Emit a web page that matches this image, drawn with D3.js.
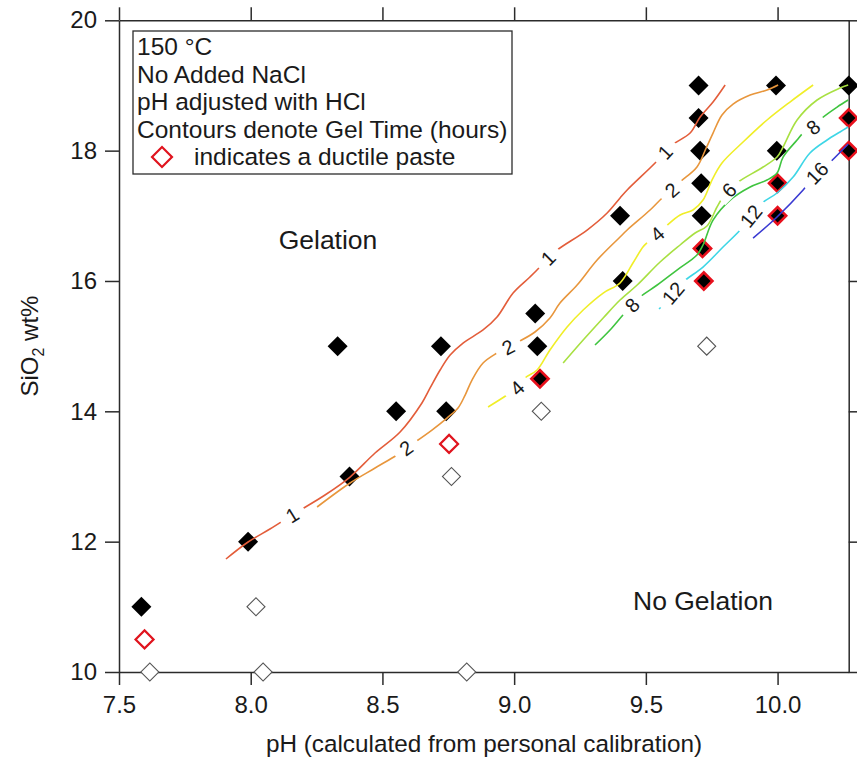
<!DOCTYPE html>
<html><head><meta charset="utf-8">
<script src="https://cdn.jsdelivr.net/npm/d3@7"></script>
<style>body{margin:0;background:#fff}svg{display:block}</style>
</head><body><svg id="c" width="857" height="764"></svg>
<script>
// ---------- data ----------
const xTicks = [7.5, 8.0, 8.5, 9.0, 9.5, 10.0];
const yTicks = [10, 12, 14, 16, 18, 20];

// gelation (filled black diamonds)
const gelPH = [7.585, 7.99, 8.33, 8.375, 8.552, 8.722, 8.742, 9.08, 9.088, 9.402, 9.412, 9.70, 9.70, 9.706, 9.71, 9.712, 9.994, 9.997, 10.27];
const gelSi = [11, 12, 15, 13, 14, 15, 14, 15.5, 15, 17, 16, 19, 18.5, 18, 17.5, 17, 19, 18, 19];
// gelation + ductile paste (black with red border)
const ductGelPH = [9.098, 9.715, 9.72, 10.0, 10.0, 10.27, 10.27];
const ductGelSi = [14.5, 16.5, 16, 17.5, 17, 18.5, 18];
// ductile paste, no gelation (open red)
const ductPH = [7.597, 8.753];
const ductSi = [10.5, 13.5];
// no gelation (open grey)
const noGelPH = [7.617, 8.02, 8.047, 8.762, 8.82, 9.103, 9.731];
const noGelSi = [10, 11, 10, 13, 10, 14, 15];

// contours of gel time (hours): [pH, SiO2]
const contour1 = [[7.906,11.734],[7.990,11.995],[8.073,12.194],[8.157,12.409],[8.195,12.501],[8.282,12.716],[8.377,12.992],[8.472,13.360],[8.567,13.683],[8.650,14.128],[8.681,14.358],[8.719,14.634],[8.757,14.864],[8.806,15.048],[8.882,15.248],[8.935,15.447],[8.996,15.815],[9.060,16.061],[9.098,16.214],[9.129,16.352],[9.163,16.475],[9.277,16.782],[9.353,17.043],[9.402,17.273],[9.429,17.396],[9.535,17.810],[9.573,17.979],[9.599,18.086],[9.668,18.270],[9.706,18.516],[9.755,18.746],[9.801,19.007]];
const contour2 = [[8.252,12.532],[8.377,12.900],[8.472,13.130],[8.555,13.330],[8.590,13.437],[8.624,13.529],[8.688,13.713],[8.745,13.897],[8.787,14.051],[8.814,14.250],[8.840,14.480],[8.882,14.741],[8.935,14.895],[8.977,14.987],[9.015,15.064],[9.079,15.217],[9.136,15.432],[9.174,15.662],[9.239,15.938],[9.315,16.322],[9.402,16.675],[9.429,16.782],[9.516,17.089],[9.562,17.273],[9.599,17.396],[9.630,17.519],[9.694,17.749],[9.729,18.040],[9.755,18.270],[9.789,18.547],[9.831,18.715],[9.896,18.853],[9.960,18.930],[10.002,19.007]];
const contour4 = [[8.901,14.066],[8.973,14.250],[9.011,14.358],[9.041,14.511],[9.087,14.634],[9.136,14.941],[9.201,15.294],[9.262,15.555],[9.338,15.815],[9.402,15.969],[9.451,16.276],[9.489,16.521],[9.508,16.598],[9.543,16.721],[9.573,16.828],[9.630,17.012],[9.679,17.089],[9.717,17.242],[9.751,17.549],[9.789,17.810],[9.869,18.132],[9.960,18.470],[10.047,18.746],[10.135,19.007]];
const contour6 = [[9.186,14.741],[9.262,15.094],[9.338,15.432],[9.402,15.708],[9.467,15.938],[9.554,16.291],[9.630,16.552],[9.687,16.736],[9.732,16.843],[9.770,17.135],[9.793,17.288],[9.816,17.396],[9.850,17.519],[9.945,17.749],[9.998,17.902],[10.021,18.056],[10.074,18.470],[10.150,18.777],[10.237,18.961],[10.268,19.007]];
const contour8 = [[9.307,15.017],[9.364,15.248],[9.413,15.478],[9.448,15.631],[9.478,15.754],[9.543,15.938],[9.618,16.168],[9.694,16.398],[9.717,16.552],[9.755,16.935],[9.820,17.242],[9.896,17.442],[9.960,17.549],[9.998,17.657],[10.021,17.902],[10.074,18.163],[10.097,18.270],[10.135,18.362],[10.169,18.501],[10.226,18.669],[10.268,18.777]];
const contour12 = [[9.550,15.570],[9.573,15.662],[9.603,15.815],[9.641,15.984],[9.717,16.214],[9.793,16.521],[9.858,16.782],[9.899,16.997],[9.941,17.196],[9.998,17.350],[10.059,17.595],[10.123,17.964],[10.188,18.163],[10.237,18.286],[10.268,18.362]];
const contour16 = [[9.907,16.659],[9.998,16.982],[10.097,17.396],[10.150,17.657],[10.188,17.779],[10.268,18.102]];

const contourLevels = [1, 2, 4, 6, 8, 12, 16];
const contourLines = [contour1, contour2, contour4, contour6, contour8, contour12, contour16];
// label anchor points on the contours: [level, pH, SiO2]
const contourLabels = [[1,8.157,12.409],[1,9.129,16.352],[1,9.573,17.979],
  [2,8.590,13.437],[2,8.977,14.987],[2,9.599,17.396],
  [4,9.011,14.358],[4,9.543,16.721],
  [6,9.816,17.396],
  [8,9.448,15.631],[8,10.135,18.362],
  [12,9.603,15.815],[12,9.899,16.997],
  [16,10.150,17.657]];

const legendLines = ["150 °C", "No Added NaCl", "pH adjusted with HCl", "Contours denote Gel Time (hours)"];
const legendMarkerText = "indicates a ductile paste";
const xTitle = "pH (calculated from personal calibration)";

// ---------- styles ----------
const FONT = '"Liberation Sans", Arial, Helvetica, sans-serif';
const levelColor = {1:"#e35d3a", 2:"#e8963c", 4:"#f0ee28", 6:"#a8e042", 8:"#3fc43f", 12:"#3ed6e6", 16:"#3a3ad2"};
const AX = "#2b2b2b";

// ---------- scales ----------
const x = d3.scaleLinear().domain([7.5, 10.27]).range([119, 848.7]);
const y = d3.scaleLinear().domain([10, 20]).range([672, 20.3]);
const svg = d3.select("#c");

function styleAxis(g) {
  g.selectAll("path,line").attr("stroke", AX).attr("stroke-width", 1.5);
  g.selectAll("text").attr("font-family", FONT).attr("font-size", 24).attr("fill", "#1a1a1a");
}
svg.append("g").attr("transform", `translate(0,${y(10)})`)
  .call(d3.axisBottom(x).tickValues(xTicks).tickFormat(d3.format(".1f")).tickSize(13).tickSizeOuter(0).tickPadding(11)).call(styleAxis);
svg.append("g").attr("transform", `translate(0,${y(20)})`)
  .call(d3.axisTop(x).tickValues(xTicks).tickFormat("").tickSize(13).tickSizeOuter(0)).call(styleAxis);
svg.append("g").attr("transform", `translate(${x(7.5)},0)`)
  .call(d3.axisLeft(y).tickValues(yTicks).tickFormat(d3.format("d")).tickSize(14).tickSizeOuter(0).tickPadding(8)).call(styleAxis);
svg.append("g").attr("transform", `translate(${x(10.27)},0)`)
  .call(d3.axisRight(y).tickValues(yTicks).tickFormat("").tickSize(13).tickSizeOuter(0)).call(styleAxis);

// axis titles
svg.append("text").attr("x", 484).attr("y", 752).attr("text-anchor", "middle")
  .attr("font-family", FONT).attr("font-size", 24.3).attr("fill", "#1a1a1a").text(xTitle);
const yt = svg.append("text").attr("transform", "translate(38,346) rotate(-90)").attr("text-anchor", "middle")
  .attr("font-family", FONT).attr("font-size", 24).attr("fill", "#1a1a1a");
yt.append("tspan").text("SiO");
yt.append("tspan").attr("font-size", 16).attr("dy", 6).text("2");
yt.append("tspan").attr("dy", -6).text(" wt%");

// region annotations
svg.append("text").attr("x", 328).attr("y", 249).attr("text-anchor", "middle")
  .attr("font-family", FONT).attr("font-size", 26.5).attr("fill", "#1a1a1a").text("Gelation");
svg.append("text").attr("x", 703).attr("y", 610).attr("text-anchor", "middle")
  .attr("font-family", FONT).attr("font-size", 26.5).attr("fill", "#1a1a1a").text("No Gelation");

// ---------- markers ----------
const sym = r => d3.symbol(d3.symbolSquare, 2 * r * r)();
function drawMarkers(phs, sis, r, fill, stroke, sw) {
  svg.append("g").selectAll("path").data(phs.map((p, i) => [p, sis[i]])).join("path")
    .attr("d", sym(r))
    .attr("transform", d => `translate(${x(d[0])},${y(d[1])}) rotate(45)`)
    .attr("fill", fill).attr("stroke", stroke).attr("stroke-width", sw);
}
drawMarkers(noGelPH, noGelSi, 9, "#fff", "#555", 1.1);
drawMarkers(ductPH, ductSi, 9, "#fff", "#e0141e", 2.2);
drawMarkers(gelPH, gelSi, 10, "#000", "none", 0);
drawMarkers(ductGelPH, ductGelSi, 8.6, "#000", "#e8101c", 2.6);

// ---------- contours ----------
const line = d3.line().x(d => x(d[0])).y(d => y(d[1])).curve(d3.curveCatmullRom.alpha(0.5));
contourLines.forEach((pts, i) => {
  svg.append("path").attr("d", line(pts)).attr("fill", "none")
    .attr("stroke", levelColor[contourLevels[i]]).attr("stroke-width", 1.6);
});
// labels
contourLabels.forEach(([lev, ph, si]) => {
  const pts = contourLines[contourLevels.indexOf(lev)].map(d => [x(d[0]), y(d[1])]);
  const cx = x(ph), cy = y(si);
  let best = 0, bd = Infinity;
  for (let k = 0; k < pts.length; k++) { const dd = (pts[k][0]-cx)**2 + (pts[k][1]-cy)**2; if (dd < bd) { bd = dd; best = k; } }
  const a = pts[Math.max(0, best-1)], b = pts[Math.min(pts.length-1, best+1)];
  let ang = Math.atan2(b[1]-a[1], b[0]-a[0]) * 180 / Math.PI;
  if (ang > 90) ang -= 180; if (ang < -90) ang += 180;
  const g = svg.append("g").attr("transform", `translate(${cx},${cy}) rotate(${ang})`);
  const txt = String(lev);
  const w = txt.length * 11 + 16;
  g.append("rect").attr("x", -w/2).attr("y", -8).attr("width", w).attr("height", 16).attr("fill", "#fff");
  g.append("text").attr("text-anchor", "middle").attr("dy", "0.36em")
    .attr("font-family", FONT).attr("font-size", 20).attr("fill", "#1a1a1a").text(txt);
});

// ---------- legend ----------
svg.append("rect").attr("x", 133).attr("y", 31).attr("width", 379).attr("height", 143)
  .attr("fill", "#fff").attr("stroke", AX).attr("stroke-width", 1.3);
legendLines.forEach((t, i) => {
  svg.append("text").attr("x", 137).attr("y", 55 + i * 27.5)
    .attr("font-family", FONT).attr("font-size", 24.5).attr("fill", "#1a1a1a").text(t);
});
svg.append("path").attr("d", sym(10)).attr("transform", "translate(162,157) rotate(45)")
  .attr("fill", "#fff").attr("stroke", "#e0141e").attr("stroke-width", 2.2);
svg.append("text").attr("x", 194).attr("y", 165)
  .attr("font-family", FONT).attr("font-size", 24.5).attr("fill", "#1a1a1a").text(legendMarkerText);
</script></body></html>
